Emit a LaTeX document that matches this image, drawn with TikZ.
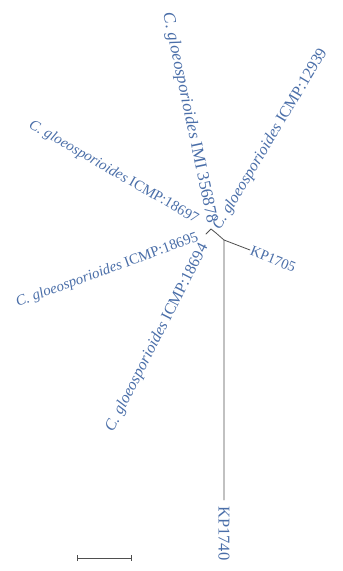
\documentclass[tikz,border=0pt]{standalone}
\usepackage{fontspec}
\setmainfont{Liberation Serif}
\usepackage{xcolor}
\usepackage{tikz}
\usetikzlibrary{arrows.meta}
\definecolor{taxblue}{HTML}{4A6EA8}
\definecolor{branchgray}{HTML}{4F4F4F}
\tikzset{
    every picture/.style={line cap=round,line join=round},
    taxon/.style={text=taxblue,font=\fontsize{#1}{18}\selectfont,inner sep=1pt},
    taxon/.default=16,
    branchline/.style={draw=branchgray,line width=0.8pt}
}
\newcommand{\cglo}{\textit{C. gloeosporioides}}

\begin{document}
\begin{tikzpicture}[x=1pt,y=-1pt]
  \useasboundingbox (0,0) rectangle (343,571);
  % inner nodes and tips of the tree
  \coordinate (root) at (224,240);
  \coordinate (inner) at (216,233);
  \coordinate (hub) at (211,229);
  \coordinate (twig) at (206,234);
  \coordinate (tipA) at (250,250);
  \coordinate (tipB) at (224,500);
  \draw[branchline] (twig) -- (hub) -- (inner) -- (root) -- (tipB);
  \draw[branchline] (root) -- (tipA);

  % leaf labels, read along their branches
  \node[taxon=17,rotate=-78,anchor=east] (imi) at (212,224) {\cglo{} IMI 356878};
  \node[taxon,rotate=59,anchor=west] (c12939) at (216,230) {\cglo{} ICMP:12939};
  \node[taxon=14.8,rotate=-30,anchor=east] (c18697) at (198,221) {\cglo{} ICMP:18697};
  \node[taxon=14.8,rotate=20,anchor=east] (c18695) at (199,237) {\cglo{} ICMP:18695};
  \node[taxon,rotate=63,anchor=east] (c18694) at (205,244) {\cglo{} ICMP:18694};
  \node[taxon=14.5,rotate=-22,anchor=west] (kp1705) at (tipA) {KP1705};
  \node[taxon=16.5,rotate=-90,anchor=west,xshift=5pt] (kp1740) at (tipB) {KP1740};

  % scale bar
  \coordinate (barL) at (77,558);
  \coordinate (barR) at (132,558);
  \draw[branchline,{Bar[width=6pt]}-{Bar[width=6pt]}] (barL) -- (barR);
\end{tikzpicture}
\end{document}
